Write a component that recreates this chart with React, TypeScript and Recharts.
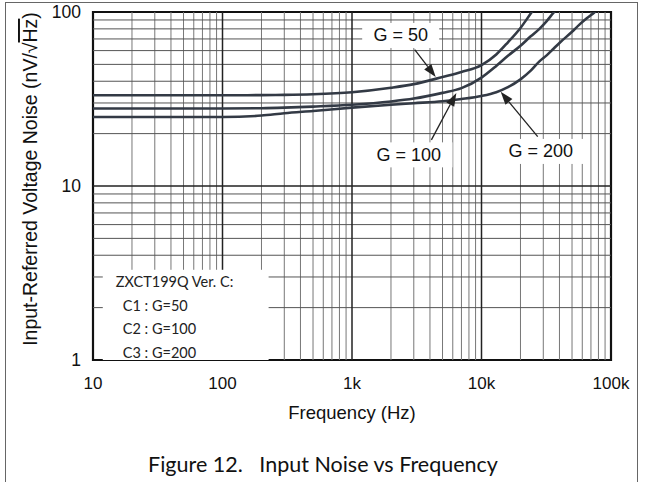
import React from 'react';
import {
  LineChart,
  Line,
  XAxis,
  YAxis,
  ReferenceLine,
  ReferenceArea,
  ReferenceDot,
} from 'recharts';

// frequency points (Hz) shared by the three curves
const FREQ = [
  10, 20, 50, 100, 200, 300, 500, 1000, 2000, 3000, 5000, 7000, 10000, 13000, 16000, 20000,
  24000, 28000, 32000, 36000, 40000, 50000, 57000, 65000, 75000, 85000,
];
const G50 = [
  33.2, 33.2, 33.2, 33.2, 33.3, 33.4, 33.7, 34.6, 36.7, 38.5, 42.3, 45.2, 49.5, 57, 67, 81,
  98, 115, null, null, null, null, null, null, null, null,
];
const G100 = [
  27.9, 27.9, 27.9, 27.9, 28.0, 28.2, 28.6, 29.3, 30.6, 31.8, 34.3, 36.5, 42, 49, 56, 64,
  72.5, 80, 89, 99, 108, null, null, null, null, null,
];
const G200 = [
  24.9, 24.9, 24.9, 24.9, 25.4, 26.2, 27.0, 28.2, 29.3, 29.9, 30.7, 31.6, 32.9, 34.6, 37, 41,
  46, 52, 56.5, 61.5, 66.4, 77, 84.6, 92, 100, 110,
];

const X_TICKS = [10, 100, 1000, 10000, 100000];
const X_LABELS = ['10', '100', '1k', '10k', '100k'];
const Y_TICKS = [1, 10, 100];
const X_MAJOR = [100, 1000, 10000];
const X_MINOR = [10, 100, 1000, 10000].flatMap((d) => [2, 3, 4, 5, 6, 7, 8, 9].map((m) => d * m));
const Y_MAJOR = [10];
const Y_MINOR = [1, 10].flatMap((d) => [2, 3, 4, 5, 6, 7, 8, 9].map((m) => d * m));

// curve labels: [text, freq, value]
const CURVE_LABELS: [string, number, number][] = [
  ['G = 50', 2377, 73.3],
  ['G = 100', 2741, 15.1],
  ['G = 200', 28650, 15.8],
];
// arrows: from label towards curve
const ARROWS: [number, number, number, number][] = [
  [3048, 60.7, 4430, 42.3],
  [4103, 18.4, 6397, 34.2],
  [27160, 19.2, 14060, 34.8],
];
// legend box corners (freq, value) and its lines
const LEGEND_BOX: [number, number, number, number] = [11.9, 1, 227, 3.3];
const LEGEND_LINES = ['ZXCT199Q Ver. C:', 'C1 : G=50', 'C2 : G=100', 'C3 : G=200'];

const data = FREQ.map((f, i) => ({ f, g50: G50[i], g100: G100[i], g200: G200[i] }));

const CURVE = '#333a45';
const AXIS_FONT = '"Liberation Sans", Arial, sans-serif';
const NOTE_FONT = 'Lato, "Open Sans", sans-serif';

function ArrowShape(props: any) {
  const { x1, y1, x2, y2 } = props;
  if ([x1, y1, x2, y2].some((v) => v == null || isNaN(v))) return null;
  const a = Math.atan2(y2 - y1, x2 - x1);
  const len = 13;
  const w = 4.5;
  const bx = x2 - len * Math.cos(a);
  const by = y2 - len * Math.sin(a);
  const px = -Math.sin(a) * w;
  const py = Math.cos(a) * w;
  return (
    <g>
      <line x1={x1} y1={y1} x2={bx} y2={by} stroke="#222" strokeWidth={1.3} />
      <polygon points={`${x2},${y2} ${bx + px},${by + py} ${bx - px},${by - py}`} fill="#222" />
    </g>
  );
}

function labelShape(text: string) {
  return (props: any) => {
    const { cx, cy } = props;
    const w = text.length * 10.5 + 14;
    return (
      <g>
        <rect x={cx - w / 2} y={cy - 12.5} width={w} height={25} fill="#fff" />
        <text
          x={cx}
          y={cy}
          textAnchor="middle"
          dominantBaseline="central"
          fontFamily={AXIS_FONT}
          fontSize={18}
          fill="#111"
        >
          {text}
        </text>
      </g>
    );
  };
}

function LegendShape(props: any) {
  const { x1, y1, x2, y2 } = props;
  if ([x1, y1, x2, y2].some((v) => v == null || isNaN(v))) return null;
  const x = Math.min(x1, x2);
  const y = Math.min(y1, y2);
  return (
    <g>
      <rect x={x} y={y} width={Math.abs(x2 - x1)} height={Math.abs(y2 - y1)} fill="#fff" />
      {LEGEND_LINES.map((t, i) => (
        <text
          key={t}
          x={x + 13 + (i === 0 ? 0 : 7)}
          y={y + 12 + i * 23.5}
          dominantBaseline="central"
          fontFamily={NOTE_FONT}
          fontSize={14.5}
          fill="#222"
        >
          {t}
        </text>
      ))}
    </g>
  );
}

export default function App() {
  return (
    <div style={{ position: 'absolute', left: 0, top: 0, width: 646, height: 482, background: '#fff' }}>
      <div
        style={{
          position: 'absolute',
          left: 5,
          top: 2,
          width: 631,
          height: 500,
          borderTop: '1px solid #666',
          borderLeft: '1px solid #666',
          borderRight: '1px solid #666',
        }}
      />
      <LineChart
        width={646}
        height={482}
        data={data}
        margin={{ top: 12, right: 35, bottom: 92, left: 0 }}
        style={{ position: 'absolute', left: 0, top: 0 }}
      >
        <XAxis
          dataKey="f"
          type="number"
          scale="log"
          domain={[10, 100000]}
          allowDataOverflow
          ticks={X_TICKS}
          tickFormatter={(v: number) => X_LABELS[X_TICKS.indexOf(v)] ?? ''}
          height={30}
          axisLine={false}
          tickLine={false}
          tickMargin={11}
          tick={{ fill: '#111', fontSize: 17, fontFamily: AXIS_FONT }}
          label={{
            value: 'Frequency (Hz)',
            position: 'insideBottom',
            offset: -29,
            fill: '#111',
            fontSize: 18.5,
            fontFamily: AXIS_FONT,
          }}
        />
        <YAxis
          type="number"
          scale="log"
          domain={[1, 100]}
          allowDataOverflow
          ticks={Y_TICKS}
          width={93}
          axisLine={false}
          tickLine={false}
          tickMargin={6}
          tick={{ fill: '#111', fontSize: 17.5, fontFamily: AXIS_FONT }}
        />
        {X_MINOR.map((v) => (
          <ReferenceLine key={'xm' + v} x={v} stroke="#777" strokeWidth={1} />
        ))}
        {Y_MINOR.map((v) => (
          <ReferenceLine key={'ym' + v} y={v} stroke="#555" strokeWidth={1} />
        ))}
        {X_MAJOR.map((v) => (
          <ReferenceLine key={'xM' + v} x={v} stroke="#222" strokeWidth={1.5} />
        ))}
        {Y_MAJOR.map((v) => (
          <ReferenceLine key={'yM' + v} y={v} stroke="#222" strokeWidth={1.5} />
        ))}
        <ReferenceLine
          segment={[
            { x: LEGEND_BOX[0], y: LEGEND_BOX[1] },
            { x: LEGEND_BOX[2], y: LEGEND_BOX[3] },
          ]}
          shape={LegendShape}
        />
        <Line dataKey="g50" stroke={CURVE} strokeWidth={2.6} dot={false} type="monotone" isAnimationActive={false} />
        <Line dataKey="g100" stroke={CURVE} strokeWidth={2.6} dot={false} type="monotone" isAnimationActive={false} />
        <Line dataKey="g200" stroke={CURVE} strokeWidth={2.6} dot={false} type="monotone" isAnimationActive={false} />
        {CURVE_LABELS.map(([t, f, v]) => (
          <ReferenceDot key={t} x={f} y={v} r={0} shape={labelShape(t)} />
        ))}
        {ARROWS.map(([fa, va, fb, vb], i) => (
          <ReferenceLine
            key={'a' + i}
            segment={[
              { x: fa, y: va },
              { x: fb, y: vb },
            ]}
            shape={ArrowShape}
          />
        ))}
        <ReferenceArea x1={10} x2={100000} y1={1} y2={100} fill="none" stroke="#111" strokeWidth={2.2} />
      </LineChart>
      <svg width={60} height={482} style={{ position: 'absolute', left: 0, top: 0 }}>
        <text
          transform="translate(37,179) rotate(-90)"
          textAnchor="middle"
          fontFamily={AXIS_FONT}
          fontSize={19.5}
          fill="#111"
        >
          Input-Referred Voltage Noise (nV/√
          <tspan style={{ textDecoration: 'overline' }}>Hz</tspan>)
        </text>
      </svg>
      <div
        style={{
          position: 'absolute',
          left: 0,
          top: 451,
          width: 646,
          textAlign: 'center',
          fontFamily: NOTE_FONT,
          fontSize: 21.5,
          color: '#111',
          whiteSpace: 'pre',
        }}
      >
        {'Figure 12.   Input Noise vs Frequency'}
      </div>
    </div>
  );
}
